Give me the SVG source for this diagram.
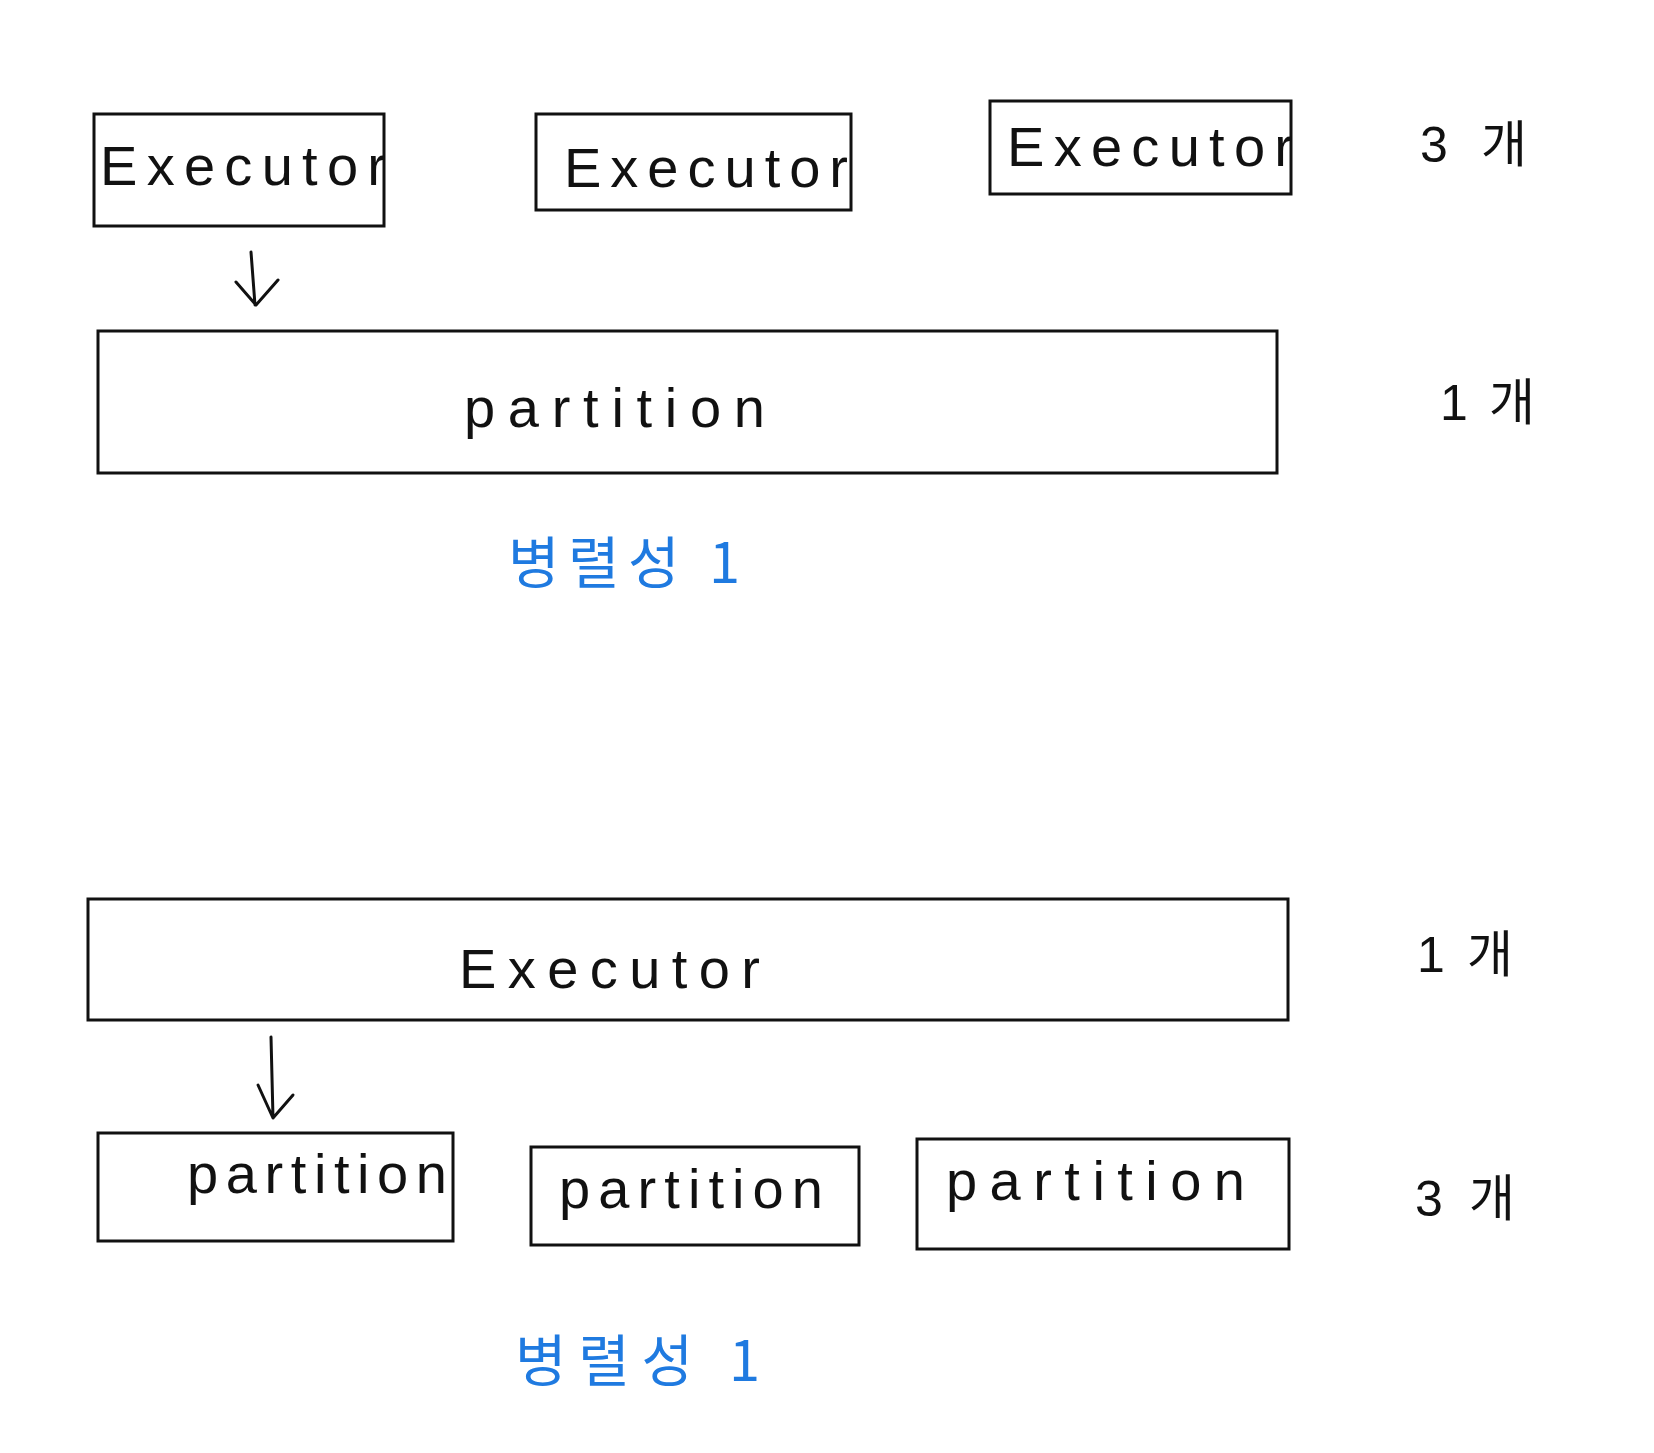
<svg xmlns="http://www.w3.org/2000/svg" width="1654" height="1453" viewBox="0 0 1654 1453">
<style>
.box{fill:none;stroke:#111;stroke-width:3}
.lbl{font-family:"Liberation Sans","Noto Sans CJK KR",sans-serif;font-size:56px;fill:#111}
.cnt{font-family:"Liberation Sans","Noto Sans CJK KR",sans-serif;font-size:50px;fill:#111}
.par{font-family:"Noto Sans CJK KR","Liberation Sans",sans-serif;font-size:56px;fill:#1f7ae0}
.conn{fill:none;stroke:#111;stroke-width:3;stroke-linecap:round;stroke-linejoin:round}
</style>
<rect width="1654" height="1453" fill="#fff"/>
<g id="exec-top-1"><rect class="box" x="94" y="114" width="290" height="112"/><text class="lbl" x="100" y="185" textLength="286" lengthAdjust="spacing">Executor</text></g>
<g id="exec-top-2"><rect class="box" x="536" y="114" width="315" height="96"/><text class="lbl" x="564" y="187" textLength="284" lengthAdjust="spacing">Executor</text></g>
<g id="exec-top-3"><rect class="box" x="990" y="101" width="301" height="93"/><text class="lbl" x="1007" y="166" textLength="286" lengthAdjust="spacing">Executor</text></g>
<g id="count-top-1"><text class="cnt" x="1420" y="162" textLength="107" lengthAdjust="spacing">3 개</text></g>
<g id="partition-top"><rect class="box" x="98" y="331" width="1179" height="142"/><text class="lbl" x="464" y="427" textLength="301" lengthAdjust="spacing">partition</text></g>
<g id="count-top-2"><text class="cnt" x="1440" y="420" textLength="95" lengthAdjust="spacing">1 개</text></g>
<g id="par-top"><text class="par" x="508" y="583" textLength="232" lengthAdjust="spacing">병렬성 1</text></g>
<g id="exec-bottom"><rect class="box" x="88" y="899" width="1200" height="121"/><text class="lbl" x="459" y="988" textLength="301" lengthAdjust="spacing">Executor</text></g>
<g id="count-bottom-1"><text class="cnt" x="1417" y="972" textLength="96" lengthAdjust="spacing">1 개</text></g>
<g id="part-bottom-1"><rect class="box" x="98" y="1133" width="355" height="108"/><text class="lbl" x="187" y="1193" textLength="260" lengthAdjust="spacing">partition</text></g>
<g id="part-bottom-2"><rect class="box" x="531" y="1147" width="328" height="98"/><text class="lbl" x="559" y="1208" textLength="264" lengthAdjust="spacing">partition</text></g>
<g id="part-bottom-3"><rect class="box" x="917" y="1139" width="372" height="110"/><text class="lbl" x="946" y="1200" textLength="299" lengthAdjust="spacing">partition</text></g>
<g id="count-bottom-2"><text class="cnt" x="1415" y="1216" textLength="100" lengthAdjust="spacing">3 개</text></g>
<g id="par-bottom"><text class="par" x="515" y="1381" textLength="245" lengthAdjust="spacing">병렬성 1</text></g>
<g id="connectors">
<path class="conn" d="M251 252 L255 305 M236 282 L256 305 L278 280"/>
<path class="conn" d="M271 1037 L273 1118 M258 1085 L273 1118 L293 1095"/>
</g>
</svg>
